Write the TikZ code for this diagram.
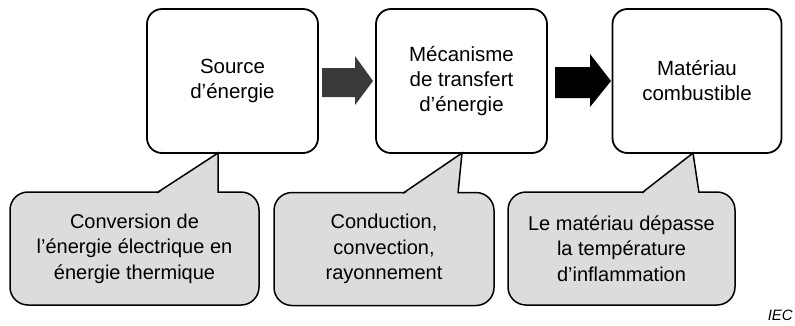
\documentclass[tikz,border=0pt]{standalone}
\usepackage{fontspec}
\setmainfont{Liberation Sans}
\usetikzlibrary{calc}
\definecolor{calloutgray}{HTML}{DCDCDC}
\definecolor{arrowdark}{HTML}{3A3A3A}
\tikzset{
  mainbox/.style={draw=black, line width=1.8pt, rounded corners=15pt, fill=white,
    minimum height=144pt, align=center, inner sep=0pt,
    font=\fontsize{20.5}{25}\selectfont},
  callout/.style={draw=black, line width=1.5pt, rounded corners=18pt, fill=calloutgray,
    minimum height=113pt, align=center, inner sep=0pt,
    font=\fontsize{20}{25.5}\selectfont},
  pointerfill/.style={fill=calloutgray},
  pointeredge/.style={draw=black, line width=1.5pt, line join=miter},
}
\begin{document}
\begin{tikzpicture}[x=1pt,y=-1pt]
\useasboundingbox (0,0) rectangle (795,325);
% main boxes
\node[mainbox, minimum width=171pt] (b1) at (232.5,81) {Source\\d’énergie};
\node[mainbox, minimum width=171pt] (b2) at (461.5,81) {Mécanisme\\de transfert\\d’énergie};
\node[mainbox, minimum width=169pt] (b3) at (697,81) {Matériau\\combustible};
% block arrows
\fill[arrowdark] (322,68) -- (355,68) -- (355,56) -- (373,81) -- (355,105) -- (355,97) -- (322,97) -- cycle;
\fill[black] (555,67) -- (590,67) -- (590,54) -- (611,81) -- (590,107) -- (590,98) -- (555,98) -- cycle;
% callouts
\node[callout, minimum width=249pt] (c1) at (134.5,248.5) {Conversion de\\l’énergie électrique en\\énergie thermique};
\node[callout, minimum width=220pt] (c2) at (384,249) {Conduction,\\convection,\\rayonnement};
\node[callout, minimum width=227pt] (c3) at (621.5,248.5) {Le matériau dépasse\\la température\\d’inflammation};
% pointers
\coordinate (p1a) at (157,192.75);
\coordinate (p1b) at (218,192.75);
\coordinate (p1t) at (218,153);
\fill[pointerfill] ($(p1a)+(0,1.5)$) -- (p1t) -- ($(p1b)+(0,1.5)$) -- cycle;
\draw[pointeredge] (p1a) -- (p1t) -- (p1b);
\coordinate (p2a) at (403,193.25);
\coordinate (p2b) at (458,193.25);
\coordinate (p2t) at (462,153);
\fill[pointerfill] ($(p2a)+(0,1.5)$) -- (p2t) -- ($(p2b)+(0,1.5)$) -- cycle;
\draw[pointeredge] (p2a) -- (p2t) -- (p2b);
\coordinate (p3a) at (642,192.75);
\coordinate (p3b) at (699,192.75);
\coordinate (p3t) at (693,153);
\fill[pointerfill] ($(p3a)+(0,1.5)$) -- (p3t) -- ($(p3b)+(0,1.5)$) -- cycle;
\draw[pointeredge] (p3a) -- (p3t) -- (p3b);
% IEC mark
\node[font=\itshape\fontsize{15}{17}\selectfont, anchor=base east, inner sep=0pt] (iec) at (793,320) {IEC};
\end{tikzpicture}
\end{document}
